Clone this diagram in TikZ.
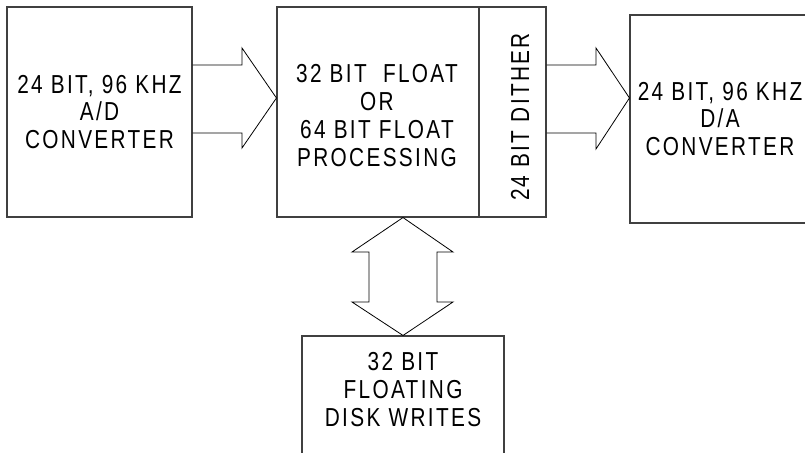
\documentclass[tikz,border=0pt]{standalone}
\usepackage{fontspec}
\setmainfont[FakeStretch=0.8, LetterSpace=9]{Liberation Sans}
\begin{document}
\begin{tikzpicture}[x=1pt,y=1pt,
  box/.style={draw=black!75, line width=1.1pt, rectangle, inner sep=0pt,
    align=center, font=\fontsize{26}{27.5}\selectfont},
  lbl/.style={inner sep=0pt, align=center, font=\fontsize{26}{28}\selectfont},
  blockarrow/.style={draw=black, line width=0.8pt, line join=miter}]
\clip (0,0) rectangle (805,-452);

% converter and processing blocks
\node[box, minimum width=185, minimum height=210] (ad) at (99.5,-112)
  {24 BIT, 96 KHZ\\A/D\\CONVERTER};
\node[box, minimum width=202, minimum height=210] (proc) at (378,-112) {};
\node[lbl] (proclbl) at (377,-115.5)
  {32 BIT\ \ FLOAT\\OR\\64 BIT FLOAT\\PROCESSING};
\node[box, minimum width=67, minimum height=210] (dither) at (512.5,-112) {};
\node[lbl, rotate=90] (ditherlbl) at (520,-117) {24 BIT DITHER};
\node[box, minimum width=180, minimum height=208] (da) at (720,-119)
  {24 BIT, 96 KHZ\\D/A\\CONVERTER};
\node[box, minimum width=202, minimum height=144] (disk) at (403,-408) {};
\node[lbl] (disklbl) at (403,-389.5) {32 BIT\\FLOATING\\DISK WRITES};

% block arrows
\draw[blockarrow] (ad.east |- 0,-65) -- (242,-65) -- (242,-48)
  -- (proc.west |- 0,-98) -- (242,-148) -- (242,-133) -- (ad.east |- 0,-133);
\draw[blockarrow] (dither.east |- 0,-65) -- (596,-65) -- (596,-48)
  -- (da.west |- 0,-98) -- (596,-149) -- (596,-133) -- (dither.east |- 0,-133);
\draw[blockarrow] (proc.south -| 403,0) -- (453,-252) -- (437,-252) -- (437,-302)
  -- (453,-302) -- (disk.north -| 403,0) -- (352,-302) -- (369,-302)
  -- (369,-252) -- (352,-252) -- cycle;
\end{tikzpicture}
\end{document}
